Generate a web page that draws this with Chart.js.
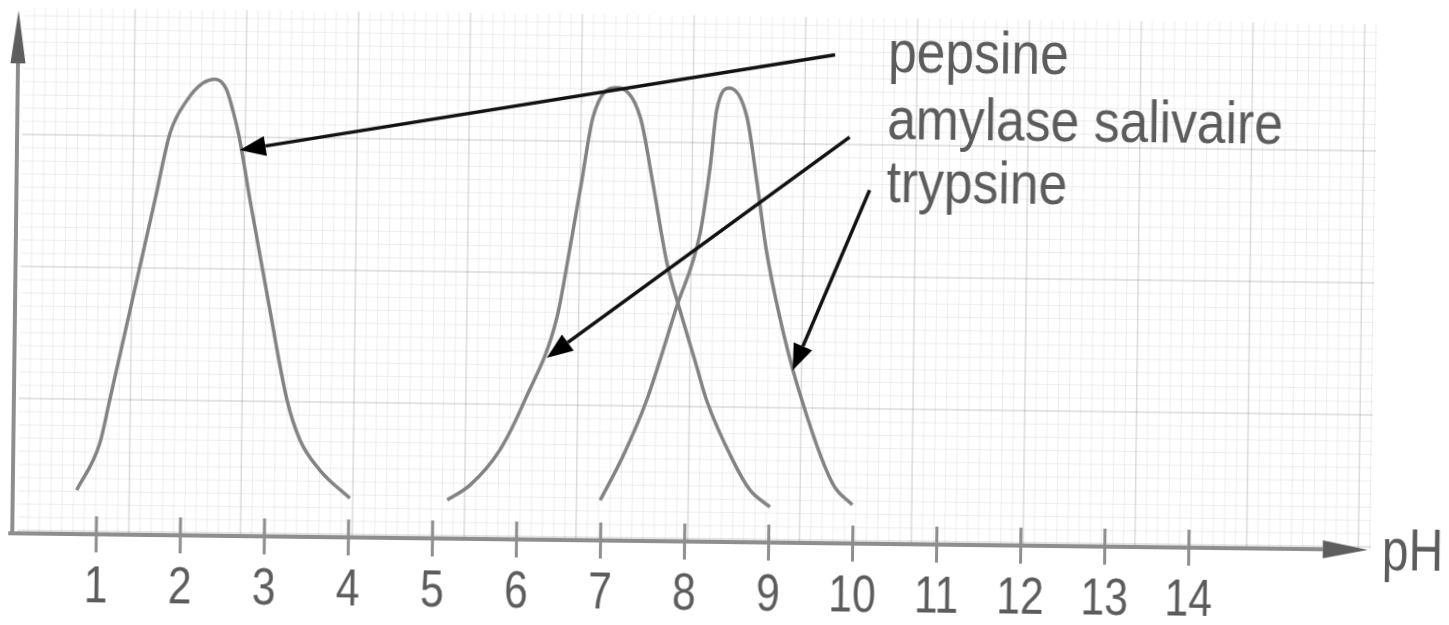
<!DOCTYPE html>
<html>
<head>
<meta charset="utf-8">
<script src="https://cdn.jsdelivr.net/npm/chart.js@4.4.0/dist/chart.umd.min.js"></script>
<style>
  html, body { margin: 0; padding: 0; background: #fff; overflow: hidden; }
  /* the printed figure sits slightly askew on the page */
  #wrap { width: 1449px; height: 625px; transform: rotate(0.7deg); transform-origin: 724px 312px; }
</style>
</head>
<body>
<div id="wrap"><canvas id="phChart" width="1449" height="625"></canvas></div>
<script>
// pH axis
const phTicks = [1, 2, 3, 4, 5, 6, 7, 8, 9, 10, 11, 12, 13, 14];

// enzyme activity vs pH (relative units)
const pepsinePH  = [0.76, 1.03, 1.14, 1.37, 1.65, 1.82, 2.02, 2.20, 2.35, 2.48, 2.57, 2.64, 2.78, 3.01, 3.25, 3.41, 3.65, 4.01];
const pepsineAct = [0.084, 0.175, 0.257, 0.430, 0.641, 0.769, 0.833, 0.865, 0.873, 0.855, 0.810, 0.765, 0.643, 0.452, 0.261, 0.185, 0.128, 0.075];

const amylasePH  = [5.17, 5.44, 5.79, 6.08, 6.45, 6.59, 6.72, 6.85, 7.13, 7.41, 7.57, 7.75, 7.91, 8.12, 8.24, 8.56, 8.77, 9.01];
const amylaseAct = [0.074, 0.103, 0.171, 0.267, 0.426, 0.555, 0.683, 0.810, 0.866, 0.811, 0.685, 0.532, 0.443, 0.334, 0.271, 0.157, 0.100, 0.068];

const trypsinePH  = [6.99, 7.25, 7.53, 7.87, 8.14, 8.25, 8.32, 8.47, 8.68, 8.81, 8.93, 9.10, 9.31, 9.75, 9.99];
const trypsineAct = [0.077, 0.160, 0.270, 0.448, 0.590, 0.717, 0.826, 0.868, 0.813, 0.687, 0.559, 0.431, 0.306, 0.115, 0.074];

// labels on the right and the arrows pointing to each curve
const enzymeNames = ['pepsine', 'amylase salivaire', 'trypsine'];
const labelPH = 10.35;
const labelAct = [0.902, 0.774, 0.654];
const arrowFrom = [[9.72, 0.934], [9.905, 0.777], [10.15, 0.676]];
const arrowTo   = [[2.65, 0.738], [6.334, 0.348], [9.261, 0.330]];

const FONT = '"Liberation Sans", Arial, sans-serif';
const TEXT = '#5c5c5c';

const toPoints = (xs, ys) => xs.map((x, i) => ({ x, y: ys[i] }));

// narrow lettering: regular face squeezed horizontally
function narrowText(ctx, text, x, y, sx, align) {
  ctx.save();
  ctx.translate(x, y);
  ctx.scale(sx, 1);
  ctx.textAlign = align;
  ctx.fillText(text, 0, 0);
  ctx.restore();
}

function drawArrow(ctx, x1, y1, x2, y2, len, half, lineColor, headColor, width) {
  const a = Math.atan2(y2 - y1, x2 - x1);
  const bx = x2 - len * Math.cos(a), by = y2 - len * Math.sin(a);
  ctx.strokeStyle = lineColor;
  ctx.lineWidth = width;
  ctx.beginPath();
  ctx.moveTo(x1, y1);
  ctx.lineTo(bx, by);
  ctx.stroke();
  ctx.fillStyle = headColor;
  ctx.beginPath();
  ctx.moveTo(x2, y2);
  ctx.lineTo(bx + half * Math.sin(a), by - half * Math.cos(a));
  ctx.lineTo(bx - half * Math.sin(a), by + half * Math.cos(a));
  ctx.closePath();
  ctx.fill();
}

// graph paper behind the plot, then axes / arrows / labels on top
const paperPlugin = {
  id: 'paper',
  beforeDatasetsDraw(chart) {
    const { ctx, chartArea } = chart;
    const left = 20, right = 1374, top = 16, bottom = chartArea.bottom;
    ctx.save();
    let i = 0;
    for (let x = 19.7; x <= right; x += 11.18, i++) {
      if (x < left) continue;
      ctx.strokeStyle = i % 10 === 0 ? 'rgba(0,0,0,0.14)' : 'rgba(0,0,0,0.07)';
      ctx.lineWidth = i % 10 === 0 ? 1.5 : 1;
      ctx.beginPath(); ctx.moveTo(x, top); ctx.lineTo(x, bottom); ctx.stroke();
    }
    i = 0;
    for (let y = 11; y <= bottom; y += 13.2, i++) {
      if (y < top) continue;
      ctx.strokeStyle = i % 10 === 0 ? 'rgba(0,0,0,0.14)' : 'rgba(0,0,0,0.07)';
      ctx.lineWidth = i % 10 === 0 ? 1.5 : 1;
      ctx.beginPath(); ctx.moveTo(left, y); ctx.lineTo(right, y); ctx.stroke();
    }
    ctx.restore();
  },
  afterDraw(chart) {
    const { ctx, chartArea } = chart;
    const xs = chart.scales.x, ys = chart.scales.y;
    const x0 = xs.getPixelForValue(0);
    const yAxis = chartArea.bottom;
    const xEnd = xs.getPixelForValue(16.13);
    ctx.save();

    // axes with arrow heads
    drawArrow(ctx, x0, yAxis + 2, x0, chartArea.top, 53, 7.5, '#8e8e8e', '#5e5e5e', 4);
    drawArrow(ctx, x0 - 4, yAxis, xEnd, yAxis, 45, 9, '#8e8e8e', '#5e5e5e', 4);

    // tick marks crossing the pH axis, with their numbers
    ctx.strokeStyle = '#8e8e8e';
    ctx.lineWidth = 3;
    ctx.fillStyle = TEXT;
    ctx.font = '52px ' + FONT;
    ctx.textBaseline = 'middle';
    phTicks.forEach(v => {
      const px = xs.getPixelForValue(v);
      ctx.beginPath(); ctx.moveTo(px, yAxis - 18); ctx.lineTo(px, yAxis + 18); ctx.stroke();
      narrowText(ctx, String(v), px, yAxis + 54, 0.82, 'center');
    });

    // axis name
    ctx.font = '60px ' + FONT;
    ctx.textBaseline = 'alphabetic';
    narrowText(ctx, 'pH', xEnd + 14, yAxis + 20, 0.8, 'left');

    // enzyme labels and pointer arrows
    enzymeNames.forEach((name, i) => {
      ctx.fillStyle = TEXT;
      narrowText(ctx, name, xs.getPixelForValue(labelPH), ys.getPixelForValue(labelAct[i]), 0.86, 'left');
      drawArrow(ctx,
        xs.getPixelForValue(arrowFrom[i][0]), ys.getPixelForValue(arrowFrom[i][1]),
        xs.getPixelForValue(arrowTo[i][0]), ys.getPixelForValue(arrowTo[i][1]),
        26, 10, '#111', '#000', 3.5);
    });
    ctx.restore();
  }
};

const curveStyle = {
  borderColor: '#838383',
  borderWidth: 3.5,
  pointRadius: 0,
  fill: false,
  cubicInterpolationMode: 'monotone'
};

new Chart(document.getElementById('phChart'), {
  type: 'line',
  data: {
    datasets: [
      { label: 'pepsine', data: toPoints(pepsinePH, pepsineAct), ...curveStyle },
      { label: 'amylase salivaire', data: toPoints(amylasePH, amylaseAct), ...curveStyle },
      { label: 'trypsine', data: toPoints(trypsinePH, trypsineAct), ...curveStyle }
    ]
  },
  options: {
    responsive: false,
    animation: false,
    layout: { padding: { left: 15, right: 64, top: 19, bottom: 0 } },
    plugins: { legend: { display: false }, tooltip: { enabled: false } },
    scales: {
      x: {
        type: 'linear',
        min: 0,
        max: 16.3,
        afterBuildTicks: s => { s.ticks = phTicks.map(v => ({ value: v })); },
        afterFit: s => { s.height = 83; },
        grid: { display: false },
        border: { display: false },
        ticks: { display: false }
      },
      y: {
        display: false,
        min: 0,
        max: 1
      }
    }
  },
  plugins: [paperPlugin]
});
</script>
</body>
</html>
